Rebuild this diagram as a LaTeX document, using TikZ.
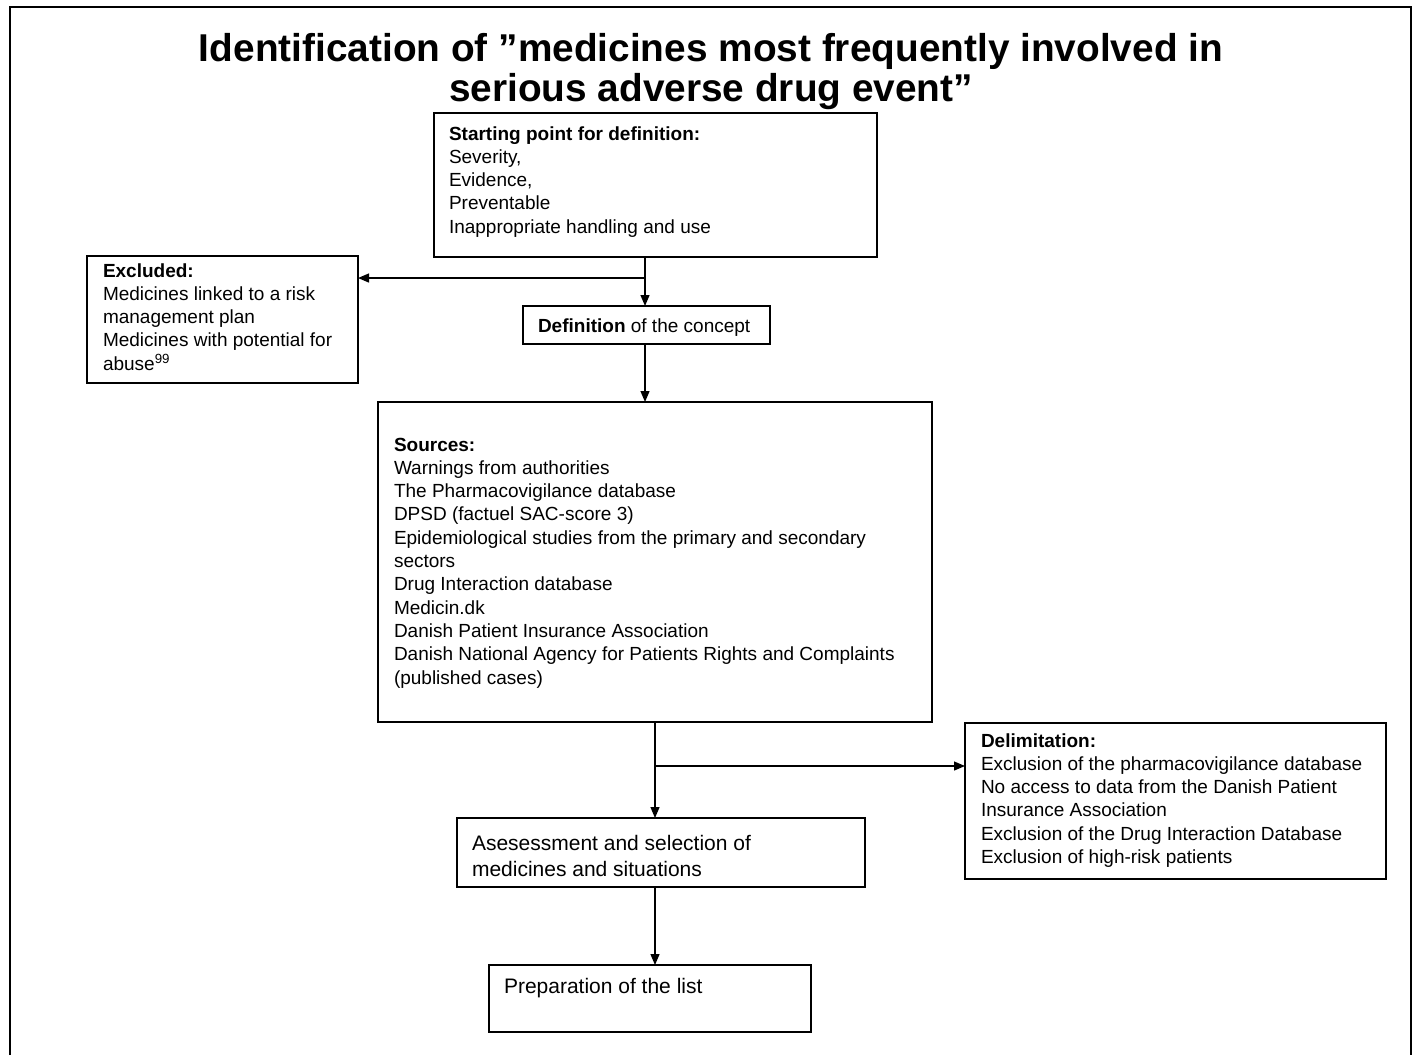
\documentclass[tikz,border=0pt]{standalone}
\usepackage{fontspec}
\setmainfont{Liberation Sans}
\usetikzlibrary{arrows.meta}
\begin{document}
\begin{tikzpicture}[x=1pt,y=-1pt,
  box/.style={draw, line width=1.3pt, inner sep=0pt, outer sep=0pt, anchor=north west},
  txt/.style={inner sep=0pt, outer sep=0pt, anchor=base west, align=left,
              font=\fontsize{19}{23.3}\selectfont},
  bigtxt/.style={txt, font=\fontsize{21}{26}\selectfont},
  arr/.style={line width=1.3pt, -{Triangle[length=11pt,width=9pt]}},
  ln/.style={line width=1.3pt}]
\useasboundingbox (0,0) rectangle (1420,1055);
% outer frame (open at the bottom)
\draw[line width=2pt] (9.5,1055) -- (9.5,6.5) -- (1411,6.5) -- (1411,1055);

% title (anchor = baseline of the last line)
\node[inner sep=0pt, anchor=base, align=center,
      font=\bfseries\fontsize{38.8}{39.5}\selectfont] (title) at (711,101)
  {Identification of ”medicines most frequently involved in\\serious adverse drug event”};

% boxes
\node[box, minimum width=443pt, minimum height=144pt] (sp) at (434,113) {};
\node[txt] (spt) at (449,233.2) {\textbf{Starting point for definition:}\\Severity,\\Evidence,\\Preventable\\Inappropriate handling and use};

\node[box, minimum width=271pt, minimum height=127pt] (ex) at (87,256) {};
\node[txt] (ext) at (103,370.2) {\textbf{Excluded:}\\Medicines linked to a risk\\management plan\\Medicines with potential for\\abuse\textsuperscript{99}};

\node[box, minimum width=247pt, minimum height=38pt] (def) at (523,306) {};
\node[txt] (deft) at (538,332) {\textbf{Definition} of the concept};

\node[box, minimum width=554pt, minimum height=320pt] (src) at (378,402) {};
\node[txt] (srct) at (394,684) {\textbf{Sources:}\\Warnings from authorities\\The Pharmacovigilance database\\DPSD (factuel SAC-score 3)\\Epidemiological studies from the primary and secondary\\sectors\\Drug Interaction database\\Medicin.dk\\Danish Patient Insurance Association\\Danish National Agency for Patients Rights and Complaints\\(published cases)};

\node[box, minimum width=421pt, minimum height=156pt] (del) at (965,723) {};
\node[txt] (delt) at (981,863.5) {\textbf{Delimitation:}\\Exclusion of the pharmacovigilance database\\No access to data from the Danish Patient\\Insurance Association\\Exclusion of the Drug Interaction Database\\Exclusion of high-risk patients};

\node[box, minimum width=408pt, minimum height=69pt] (asm) at (457,818) {};
\node[bigtxt] (asmt) at (472,876) {Asesessment and selection of\\medicines and situations};

\node[box, minimum width=322pt, minimum height=67pt] (prep) at (489,965) {};
\node[bigtxt] (prept) at (504,993) {Preparation of the list};

% connectors
\coordinate (j1) at (645,278);
\draw[ln] (j1 |- sp.south) -- (j1);
\draw[arr] (j1) -- (j1 |- def.north);
\draw[arr] (j1) -- (ex.east |- j1);
\draw[arr] (j1 |- def.south) -- (j1 |- src.north);

\coordinate (j2) at (655,766);
\draw[ln] (j2 |- src.south) -- (j2);
\draw[arr] (j2) -- (j2 |- asm.north);
\draw[arr] (j2) -- (del.west |- j2);
\draw[arr] (j2 |- asm.south) -- (j2 |- prep.north);
\end{tikzpicture}
\end{document}
